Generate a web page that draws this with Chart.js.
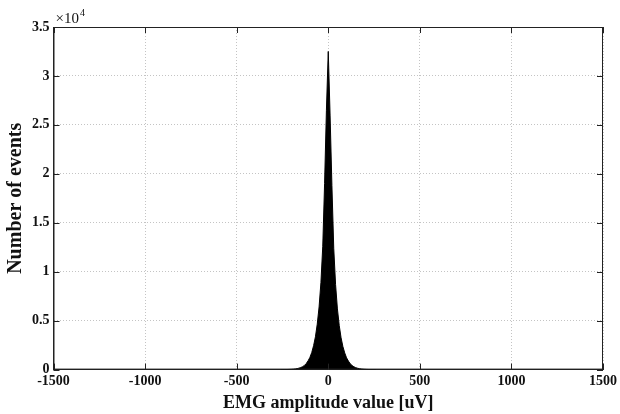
<!DOCTYPE html>
<html>
<head>
<meta charset="utf-8">
<script src="https://cdn.jsdelivr.net/npm/chart.js@4.4.1/dist/chart.umd.min.js"></script>
<style>
  html, body { margin: 0; padding: 0; background: #fff; }
  #wrap { width: 620px; height: 414px; }
</style>
</head>
<body>
<div id="wrap"><canvas id="hist"></canvas></div>
<script>
// histogram bin centres [uV] and counts
var BIN_CENTRES = [
    -260, -250, -240, -230, -220, -210, -200, -190, -180, -170, -160, -150, -140,
    -130, -120, -110, -100, -90, -80, -70, -60, -50, -40, -30, -20, -10,
    0,
    10, 20, 30, 40, 50, 60, 70, 80, 90, 100, 110, 120, 130,
    140, 150, 160, 170, 180, 190, 200, 210, 220, 230, 240, 250, 260
];
var COUNTS = [
    0, 3, 5, 8, 12, 20, 30, 45, 70, 100, 150, 210, 300,
    430, 620, 900, 1250, 1750, 2450, 3350, 4650, 6400, 8900, 12600, 19000, 26500,
    32500,
    26000, 18800, 12400, 8700, 6200, 4500, 3250, 2350, 1700, 1200, 870, 600, 420,
    290, 200, 140, 95, 65, 42, 28, 18, 11, 7, 4, 2, 0
];
var X_TICKS = [-1500, -1000, -500, 0, 500, 1000, 1500];
var Y_TICKS = [0, 5000, 10000, 15000, 20000, 25000, 30000, 35000];
var Y_EXPONENT = 4;

var SERIF = '"Liberation Serif", "Times New Roman", serif';

// box, inward tick marks and the x10^4 label, MATLAB style
var matlabAxes = {
    id: 'matlabAxes',
    afterDraw: function (chart) {
        var ctx = chart.ctx, a = chart.chartArea;
        var xs = chart.scales.x, ys = chart.scales.y;
        ctx.save();
        ctx.strokeStyle = '#222';
        ctx.lineWidth = 1;
        ctx.strokeRect(a.left + 0.5, a.top + 0.5, a.right - a.left - 1, a.bottom - a.top - 1);
        ctx.beginPath();
        X_TICKS.forEach(function (v) {
            var px = Math.round(xs.getPixelForValue(v)) + 0.5;
            ctx.moveTo(px, a.bottom); ctx.lineTo(px, a.bottom - 6);
            ctx.moveTo(px, a.top); ctx.lineTo(px, a.top + 6);
        });
        Y_TICKS.forEach(function (v) {
            var py = Math.round(ys.getPixelForValue(v)) + 0.5;
            ctx.moveTo(a.left, py); ctx.lineTo(a.left + 6, py);
            ctx.moveTo(a.right, py); ctx.lineTo(a.right - 6, py);
        });
        ctx.stroke();

        ctx.fillStyle = '#111';
        ctx.textBaseline = 'alphabetic';
        ctx.textAlign = 'left';
        ctx.font = '15px ' + SERIF;
        ctx.fillText('\u00d710', a.left + 2, a.top - 4);
        var w = ctx.measureText('\u00d710').width;
        ctx.font = '10px ' + SERIF;
        ctx.fillText(String(Y_EXPONENT), a.left + 2 + w + 1, a.top - 11);
        ctx.restore();
    }
};

new Chart(document.getElementById('hist').getContext('2d'), {
    type: 'line',
    data: {
        datasets: [{
            label: 'EMG amplitude histogram',
            data: BIN_CENTRES.map(function (x, i) { return { x: x, y: COUNTS[i] }; }),
            borderColor: '#000',
            backgroundColor: '#000',
            borderWidth: 1,
            pointRadius: 0,
            fill: 'origin',
            tension: 0,
        }],
    },
    options: {
        responsive: true,
        maintainAspectRatio: false,
        animation: false,
        layout: { padding: { left: 4, right: 14, top: 27, bottom: 0 } },
        plugins: {
            legend: { display: false },
            tooltip: { enabled: false },
        },
        scales: {
            x: {
                type: 'linear',
                min: -1500, max: 1500,
                afterBuildTicks: function (s) { s.ticks = X_TICKS.map(function (v) { return { value: v }; }); },
                ticks: {
                    color: '#111',
                    font: { family: SERIF, size: 14, weight: 'bold' },
                    padding: 3,
                    maxRotation: 0,
                    callback: function (v) { return String(v); },
                },
                grid: { color: '#c4c4c4', drawTicks: false, tickLength: 0 },
                border: { display: true, color: '#222', dash: [1, 2] },
                title: {
                    display: true,
                    text: 'EMG amplitude value [uV]',
                    color: '#111',
                    font: { family: SERIF, size: 18, weight: 'bold' },
                    padding: { top: 0, bottom: 0 },
                },
            },
            y: {
                min: 0, max: 35000,
                afterBuildTicks: function (s) { s.ticks = Y_TICKS.map(function (v) { return { value: v }; }); },
                ticks: {
                    color: '#111',
                    font: { family: SERIF, size: 14, weight: 'bold' },
                    padding: 4,
                    callback: function (v) { return String(v / Math.pow(10, Y_EXPONENT)); },
                },
                grid: { color: '#c4c4c4', drawTicks: false, tickLength: 0 },
                border: { display: true, color: '#222', dash: [1, 2] },
                title: {
                    display: true,
                    text: 'Number of events',
                    color: '#111',
                    font: { family: SERIF, size: 20, weight: 'bold' },
                    padding: { top: 0, bottom: 0 },
                },
            },
        },
    },
    plugins: [matlabAxes],
});
</script>
</body>
</html>
